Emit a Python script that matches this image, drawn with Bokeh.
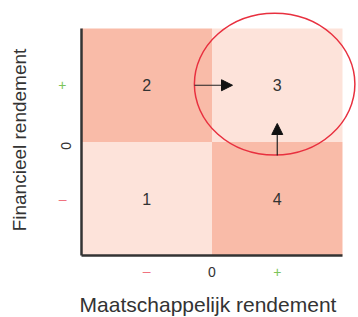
import math
from bokeh.plotting import figure
from bokeh.models import (Range1d, FixedTicker, LinearAxis, Arrow, NormalHead, ColumnDataSource)
from bokeh.core.properties import value
from bokeh.embed import file_html
from bokeh.resources import INLINE

# ---- data ----
quad_numbers = ["1", "2", "3", "4"]
quad_left = [-1, -1, 0, 0]
quad_right = [0, 0, 1, 1]
quad_bottom = [-1, 0, 0, -1]
quad_top = [0, 1, 1, 0]
quad_shade = ["#FDE3DA", "#F9BBA8", "#FDE3DA", "#F9BBA8"]

tick_positions = [-0.5, 0, 0.5]
tick_texts = ["\u2013", "0", "+"]
tick_colors = ["#F0727F", "#333333", "#7CC45A"]

x_title = "Maatschappelijk rendement"
y_title = "Financieel rendement"

# highlight ellipse around quadrant 3
ellipse_x, ellipse_y = [0.48], [0.51]
ellipse_w, ellipse_h = [1.23], [1.25]

# arrows pointing into quadrant 3
arrow_x_start = [-0.134, 0.5]
arrow_y_start = [0.5, -0.119]
arrow_x_end = [0.157, 0.5]
arrow_y_end = [0.5, 0.163]

FONTNAME = "Liberation Sans"

p = figure(width=358, height=317, output_backend="svg", toolbar_location=None,
           x_range=Range1d(-1.6207, 1.1226), y_range=Range1d(-1.5463, 1.2467),
           min_border_left=0, min_border_right=0, min_border_top=0, min_border_bottom=0)
p.outline_line_color = None
p.xgrid.visible = False
p.ygrid.visible = False
p.background_fill_color = "white"

src = ColumnDataSource(dict(left=quad_left, right=quad_right, bottom=quad_bottom, top=quad_top,
                            color=quad_shade, label=quad_numbers,
                            cx=[(a + b) / 2 for a, b in zip(quad_left, quad_right)],
                            cy=[(a + b) / 2 for a, b in zip(quad_bottom, quad_top)]))
p.quad(left="left", right="right", bottom="bottom", top="top", fill_color="color",
       line_color=None, source=src)
p.text(x="cx", y="cy", text="label", source=src, text_align="center", text_baseline="middle",
       text_font=value(FONTNAME), text_font_size="16px", text_color="#333333")

p.ellipse(x=ellipse_x, y=ellipse_y, width=ellipse_w, height=ellipse_h,
          fill_color=None, line_color="#E8303F", line_width=1.5)

for xs, ys, xe, ye in zip(arrow_x_start, arrow_y_start, arrow_x_end, arrow_y_end):
    p.add_layout(Arrow(x_start=xs, y_start=ys, x_end=xe, y_end=ye, line_color="#222222", line_width=1.2,
                       end=NormalHead(size=11, fill_color="#111111", line_color="#111111")))


def style_axis(ax, pos, txt, col, main):
    ax.fixed_location = -1
    ax.bounds = (-1, 1)
    ax.ticker = FixedTicker(ticks=[pos])
    ax.major_label_overrides = {pos: txt}
    ax.major_tick_line_color = None
    ax.minor_tick_line_color = None
    ax.major_label_text_font = FONTNAME
    ax.major_label_text_font_size = "14px"
    ax.major_label_text_color = col
    if main:
        ax.axis_line_color = "#333333"
        ax.axis_line_width = 2.5
    else:
        ax.axis_line_color = None


xaxes, yaxes = {}, {}
for pos, txt, col in zip(tick_positions, tick_texts, tick_colors):
    if txt == "0":
        xa, ya = p.xaxis[0], p.yaxis[0]
    else:
        xa, ya = LinearAxis(), LinearAxis()
        p.add_layout(xa, "below")
        p.add_layout(ya, "left")
    style_axis(xa, pos, txt, col, txt == "0")
    style_axis(ya, pos, txt, col, txt == "0")
    xa.major_label_standoff = 2 if txt == "\u2013" else 6
    ya.major_label_standoff = 9
    ya.major_label_orientation = math.pi / 2 if txt == "0" else "horizontal"
    xaxes[txt], yaxes[txt] = xa, ya

# axis titles, carried by the (line-less) "+" axes
xt, yt = xaxes["+"], yaxes["+"]
xt.bounds = (-1.06, 1)
yt.bounds = (-0.964, 1)
for ax, title, standoff, size in ((xt, x_title, 12, "21px"), (yt, y_title, 25, "19px")):
    ax.axis_label = title
    ax.axis_label_standoff = standoff
    ax.axis_label_text_font = FONTNAME
    ax.axis_label_text_font_style = "normal"
    ax.axis_label_text_font_size = size
    ax.axis_label_text_color = "#333333"

open("out.html", "w").write(file_html(p, INLINE))
